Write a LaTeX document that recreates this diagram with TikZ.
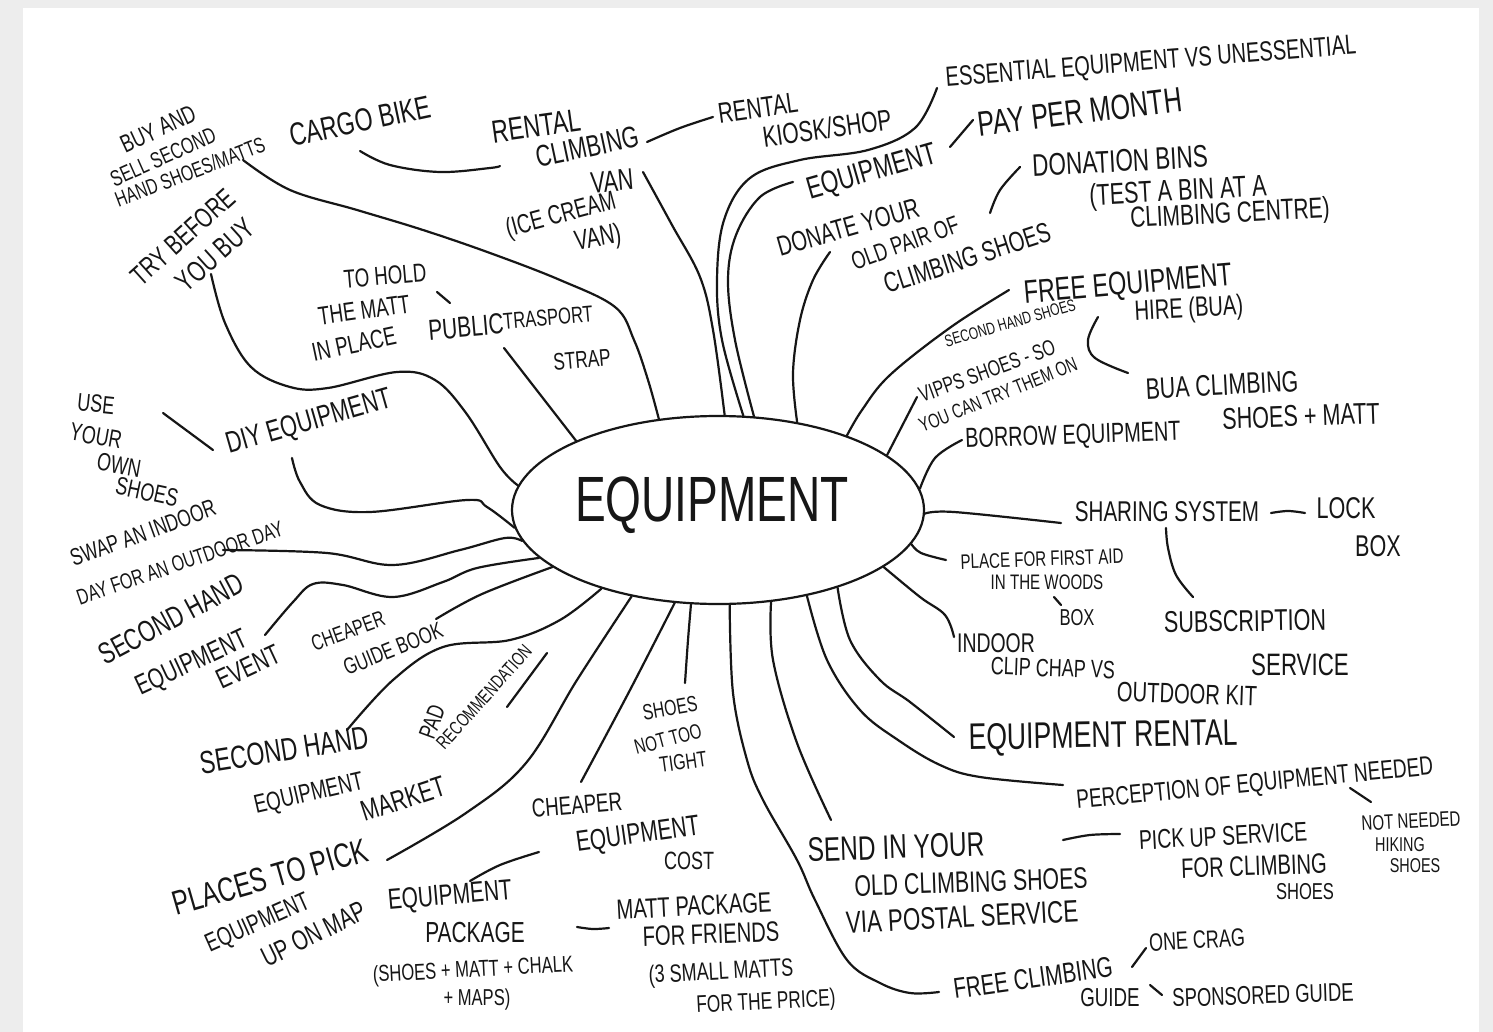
\documentclass[tikz,border=0pt]{standalone}
\usepackage{fontspec}
\setmainfont{Liberation Sans}[FakeStretch=0.72]
\usetikzlibrary{shapes.geometric}
\definecolor{ink}{HTML}{161616}
\definecolor{scanbg}{HTML}{EDEDED}
\begin{document}
\begin{tikzpicture}[x=0.5pt,y=-0.5pt,
  hw/.style={inner sep=0pt, text=ink, anchor=center},
  fs/.style={font=\fontsize{#1}{#1}\selectfont},
  conn/.style={draw=ink, line width=1.1pt, line cap=round, line join=round},
  sm/.style={smooth, tension=0.6}]
% paper
\fill[scanbg] (0,0) rectangle (1493,1032);
\fill[white] (23,8) rectangle (1479,1032);
\useasboundingbox (0,0) rectangle (1493,1032);

% central ellipse
\node[ellipse, draw=ink, line width=1.1pt, minimum width=206pt, minimum height=94pt,
      inner sep=0pt] (eq) at (718,510) {};
\node[hw, font=\fontsize{32}{32}\selectfont] (eqtext) at (712,505) {EQUIPMENT};

% ---------- labels ----------
\node[hw,fs=12.5,rotate=25] (bs1) at (158,129) {BUY AND};
\node[hw,fs=11.2,rotate=24] (bs2) at (163,157) {SELL SECOND};
\node[hw,fs=10.8,rotate=21] (bs3) at (190,172) {HAND SHOES/MATTS};
\node[hw,fs=16,rotate=12] (cargo) at (360,121) {CARGO BIKE};
\node[hw,fs=14,rotate=42] (try1) at (183,237) {TRY BEFORE};
\node[hw,fs=14.5,rotate=42] (try2) at (215,255) {YOU BUY};

\node[hw,fs=16,rotate=8] (van1) at (536,126) {RENTAL};
\node[hw,fs=15,rotate=12] (van2) at (587,147) {CLIMBING};
\node[hw,fs=15,rotate=5] (van3) at (612,181) {VAN};
\node[hw,fs=13.3,rotate=15] (van4) at (561,216) {(ICE CREAM};
\node[hw,fs=14,rotate=10] (van5) at (598,239) {VAN)};

\node[hw,fs=14.4,rotate=8] (kiosk1) at (758,108) {RENTAL};
\node[hw,fs=14.6,rotate=8] (kiosk2) at (827,128) {KIOSK/SHOP};

\node[hw,fs=13.9,rotate=4.5] (ess) at (1151,63) {ESSENTIAL EQUIPMENT VS UNESSENTIAL};
\node[hw,fs=15.6,rotate=16] (equip2) at (872,173) {EQUIPMENT};
\node[hw,fs=17.5,rotate=7] (pay) at (1080,112) {PAY PER MONTH};

\node[hw,fs=14,rotate=16] (donate1) at (848,227) {DONATE YOUR};
\node[hw,fs=12.5,rotate=20] (donate2) at (905,243) {OLD PAIR OF};
\node[hw,fs=14,rotate=18] (donate3) at (967,258) {CLIMBING SHOES};
\node[hw,fs=15.6,rotate=3] (donation) at (1120,161) {DONATION BINS};
\node[hw,fs=15,rotate=3] (test1) at (1178,193) {(TEST A BIN AT A};
\node[hw,fs=14.5,rotate=3] (test2) at (1230,215) {CLIMBING CENTRE)};

\node[hw,fs=16.3,rotate=5] (free1) at (1128,286) {FREE EQUIPMENT};
\node[hw,fs=14,rotate=3] (free2) at (1189,310) {HIRE (BUA)};
\node[hw,fs=8.4,rotate=16] (vipps1) at (1010,323) {SECOND HAND SHOES};
\node[hw,fs=11,rotate=20] (vipps2) at (987,371) {VIPPS SHOES - SO};
\node[hw,fs=10,rotate=22] (vipps3) at (998,395) {YOU CAN TRY THEM ON};
\node[hw,fs=14.8,rotate=3] (bua1) at (1222,385) {BUA CLIMBING};
\node[hw,fs=15,rotate=2] (bua2) at (1301,416) {SHOES + MATT};
\node[hw,fs=13.8,rotate=2] (borrow) at (1073,437) {BORROW EQUIPMENT};

\node[hw,fs=14.3] (share) at (1167,512) {SHARING SYSTEM};
\node[hw,fs=15] (lock1) at (1346,508) {LOCK};
\node[hw,fs=15] (lock2) at (1378,546) {BOX};
\node[hw,fs=15,rotate=1] (subs1) at (1245,621) {SUBSCRIPTION};
\node[hw,fs=15.5] (subs2) at (1300,665) {SERVICE};
\node[hw,fs=10.5,rotate=2] (aid1) at (1042,559) {PLACE FOR FIRST AID};
\node[hw,fs=10.5] (aid2) at (1047,582) {IN THE WOODS};
\node[hw,fs=11.5] (aid3) at (1077,618) {BOX};
\node[hw,fs=13.5] (indoor1) at (996,643) {INDOOR};
\node[hw,fs=12.5,rotate=-2] (indoor2) at (1053,668) {CLIP CHAP VS};
\node[hw,fs=14,rotate=-2] (indoor3) at (1187,694) {OUTDOOR KIT};
\node[hw,fs=18.5,rotate=1] (rental) at (1103,738) {EQUIPMENT RENTAL};
\node[hw,fs=13.2,rotate=5.5] (perc) at (1255,785) {PERCEPTION OF EQUIPMENT NEEDED};
\node[hw,fs=10.5,rotate=3] (nn1) at (1411,821) {NOT NEEDED};
\node[hw,fs=10] (nn2) at (1400,845) {HIKING};
\node[hw,fs=10] (nn3) at (1415,866) {SHOES};
\node[hw,fs=13.5,rotate=3] (pick1) at (1223,836) {PICK UP SERVICE};
\node[hw,fs=14,rotate=2] (pick2) at (1254,866) {FOR CLIMBING};
\node[hw,fs=11.5] (pick3) at (1305,892) {SHOES};
\node[hw,fs=17,rotate=2] (send1) at (896,847) {SEND IN YOUR};
\node[hw,fs=14.8,rotate=2] (send2) at (971,882) {OLD CLIMBING SHOES};
\node[hw,fs=15.5,rotate=3] (send3) at (962,917) {VIA POSTAL SERVICE};
\node[hw,fs=14.3,rotate=8] (fcg1) at (1033,978) {FREE CLIMBING};
\node[hw,fs=13] (fcg2) at (1110,998) {GUIDE};
\node[hw,fs=12.5,rotate=3] (crag) at (1197,940) {ONE CRAG};
\node[hw,fs=12.8,rotate=2] (spons) at (1263,995) {SPONSORED GUIDE};

\node[hw,fs=14,rotate=3] (matt1) at (694,906) {MATT PACKAGE};
\node[hw,fs=14,rotate=2] (matt2) at (711,934) {FOR FRIENDS};
\node[hw,fs=12.5,rotate=3] (matt3) at (721,973) {(3 SMALL MATTS};
\node[hw,fs=12,rotate=3] (matt4) at (766,1003) {FOR THE PRICE)};
\node[hw,fs=14.5,rotate=5] (pkg1) at (450,897) {EQUIPMENT};
\node[hw,fs=14.5] (pkg2) at (475,933) {PACKAGE};
\node[hw,fs=11.5,rotate=3] (pkg3) at (473,971) {(SHOES + MATT + CHALK};
\node[hw,fs=11.5] (pkg4) at (477,1000) {+ MAPS)};
\node[hw,fs=13,rotate=5] (cheap1) at (577,805) {CHEAPER};
\node[hw,fs=14.5,rotate=8] (cheap2) at (638,836) {EQUIPMENT};
\node[hw,fs=12.5] (cheap3) at (689,861) {COST};
\node[hw,fs=11,rotate=10] (shoes1) at (670,708) {SHOES};
\node[hw,fs=10.5,rotate=15] (shoes2) at (668,739) {NOT TOO};
\node[hw,fs=11,rotate=8] (shoes3) at (683,762) {TIGHT};

\node[hw,fs=17,rotate=16] (places1) at (270,877) {PLACES TO PICK};
\node[hw,fs=13,rotate=24] (places2) at (258,924) {EQUIPMENT};
\node[hw,fs=14,rotate=26] (places3) at (314,934) {UP ON MAP};
\node[hw,fs=16,rotate=9] (market1) at (284,750) {SECOND HAND};
\node[hw,fs=13,rotate=13] (market2) at (309,795) {EQUIPMENT};
\node[hw,fs=14.5,rotate=18] (market3) at (403,799) {MARKET};
\node[hw,fs=12,rotate=70] (pad1) at (432,722) {PAD};
\node[hw,fs=9.5,rotate=48] (pad2) at (484,697) {RECOMMENDATION};
\node[hw,fs=15,rotate=28] (event1) at (171,619) {SECOND HAND};
\node[hw,fs=14,rotate=25] (event2) at (192,664) {EQUIPMENT};
\node[hw,fs=14,rotate=25] (event3) at (248,667) {EVENT};
\node[hw,fs=11,rotate=20] (guide1) at (348,631) {CHEAPER};
\node[hw,fs=11.5,rotate=22] (guide2) at (393,649) {GUIDE BOOK};
\node[hw,fs=12,rotate=20] (swap1) at (143,533) {SWAP AN INDOOR};
\node[hw,fs=11,rotate=19] (swap2) at (180,563) {DAY FOR AN OUTDOOR DAY};
\node[hw,fs=12.5,rotate=-6] (use1) at (96,404) {USE};
\node[hw,fs=12.5,rotate=-10] (use2) at (96,436) {YOUR};
\node[hw,fs=12.5,rotate=-10] (use3) at (119,465) {OWN};
\node[hw,fs=12.5,rotate=-12] (use4) at (147,492) {SHOES};
\node[hw,fs=15,rotate=16] (diy) at (309,423) {DIY EQUIPMENT};
\node[hw,fs=13,rotate=5] (hold1) at (385,276) {TO HOLD};
\node[hw,fs=13,rotate=8] (hold2) at (364,310) {THE MATT};
\node[hw,fs=13,rotate=12] (hold3) at (354,344) {IN PLACE};
\node[hw,fs=14.5,rotate=5] (pub1) at (466,327) {PUBLIC};
\node[hw,fs=11.5,rotate=5] (pub2) at (548,318) {TRASPORT};
\node[hw,fs=12,rotate=5] (pub3) at (582,360) {STRAP};

% ---------- connector free ends ----------
\coordinate (c-cargo) at (360,151);   \coordinate (c-vanL) at (500,166);
\coordinate (c-vanR) at (647,142);    \coordinate (c-kiosk) at (713,117);
\coordinate (c-bs) at (243,160);
\coordinate (c-try) at (211,274);
\coordinate (c-holdA) at (437,292);   \coordinate (c-pubA) at (450,303);
\coordinate (c-pub) at (504,348);
\coordinate (c-van) at (643,172);
\coordinate (c-ess) at (937,88);
\coordinate (c-equip) at (793,182);
\coordinate (c-slA) at (950,147);     \coordinate (c-slB) at (973,120);
\coordinate (c-donate) at (830,252);
\coordinate (c-donA) at (990,213);    \coordinate (c-donB) at (1020,167);
\coordinate (c-free) at (1009,290);
\coordinate (c-freeB) at (1098,317);  \coordinate (c-bua) at (1128,373);
\coordinate (c-vipps) at (917,397);
\coordinate (c-borrow) at (962,440);
\coordinate (c-share) at (1061,523);
\coordinate (c-shareR) at (1271,513); \coordinate (c-lock) at (1305,513);
\coordinate (c-shareB) at (1166,528); \coordinate (c-subs) at (1193,597);
\coordinate (c-aid) at (946,560);
\coordinate (c-aidB) at (1054,597);   \coordinate (c-box) at (1061,605);
\coordinate (c-indoor) at (954,637);
\coordinate (c-rental) at (954,737);
\coordinate (c-perc) at (1063,785);
\coordinate (c-percB) at (1350,788);  \coordinate (c-nn) at (1371,802);
\coordinate (c-send) at (831,820);
\coordinate (c-sendR) at (1063,840);  \coordinate (c-pick) at (1120,834);
\coordinate (c-fcg) at (939,992);
\coordinate (c-fcgA) at (1132,967);   \coordinate (c-crag) at (1146,948);
\coordinate (c-fcgB) at (1150,985);   \coordinate (c-spons) at (1162,995);
\coordinate (c-shoes) at (685,683);
\coordinate (c-cheap) at (581,782);
\coordinate (c-pkgA) at (470,881);    \coordinate (c-cheapB) at (539,852);
\coordinate (c-pkgR) at (577,927);    \coordinate (c-matt) at (609,928);
\coordinate (c-places) at (387,860);
\coordinate (c-market) at (347,730);
\coordinate (c-guide) at (436,619);
\coordinate (c-event) at (265,635);
\coordinate (c-swap) at (223,550);
\coordinate (c-diy) at (292,458);
\coordinate (c-useA) at (163,413);    \coordinate (c-diyB) at (213,450);
\coordinate (c-padA) at (507,707);    \coordinate (c-padB) at (547,653);

% ---------- connectors ----------
\draw[conn] plot[sm] coordinates {(c-cargo) (390,165) (440,172) (490,168) (c-vanL)};
\draw[conn] plot[sm] coordinates {(c-vanR) (680,128) (c-kiosk)};
\draw[conn] plot[sm] coordinates {(c-bs) (290,190) (357,210) (423,230) (490,253) (560,280) (615,307) (634,340) (648,380) (eq.123)};
\draw[conn] plot[sm] coordinates {(c-try) (225,323) (251,367) (290,387) (328,388) (397,372) (435,380) (466,413) (500,467) (eq.173)};
\draw[conn] (c-holdA) -- (c-pubA);
\draw[conn] (c-pub) -- (eq.154);
\draw[conn] plot[sm] coordinates {(c-van) (672,225) (700,277) (713,330) (eq.86)};
\draw[conn] plot[sm] coordinates {(c-ess) (915,128) (868,150) (800,160) (750,178) (724,220) (717,280) (722,340) (eq.75)};
\draw[conn] plot[sm] coordinates {(c-equip) (760,197) (736,235) (728,280) (735,340) (eq.69)};
\draw[conn] (c-slA) -- (c-slB);
\draw[conn] plot[sm] coordinates {(c-donate) (813,280) (800,320) (793,373) (eq.48)};
\draw[conn] plot[sm] coordinates {(c-donA) (1000,190) (c-donB)};
\draw[conn] plot[sm] coordinates {(c-free) (951,327) (890,375) (862,410) (eq.30)};
\draw[conn] plot[sm] coordinates {(c-freeB) (1088,340) (1095,358) (c-bua)};
\draw[conn] (c-vipps) -- (eq.18);
\draw[conn] plot[sm] coordinates {(c-borrow) (935,458) (eq.6)};
\draw[conn] plot[sm] coordinates {(eq.-1) (954,512) (c-share)};
\draw[conn] plot[sm] coordinates {(c-shareR) (1288,511) (c-lock)};
\draw[conn] plot[sm] coordinates {(c-shareB) (1168,548) (1176,575) (c-subs)};
\draw[conn] plot[sm] coordinates {(eq.-10) (921,553) (c-aid)};
\draw[conn] (c-aidB) -- (c-box);
\draw[conn] plot[sm] coordinates {(eq.-19) (920,597) (945,615) (c-indoor)};
\draw[conn] plot[sm] coordinates {(eq.-33) (850,640) (880,680) (910,702) (c-rental)};
\draw[conn] plot[sm] coordinates {(eq.-44) (827,660) (860,710) (898,740) (940,765) (980,777) (c-perc)};
\draw[conn] (c-percB) -- (c-nn);
\draw[conn] plot[sm] coordinates {(eq.-60) (773,660) (797,743) (c-send)};
\draw[conn] plot[sm] coordinates {(c-sendR) (1090,835) (c-pick)};
\draw[conn] plot[sm] coordinates {(eq.-83) (733,693) (747,760) (763,800) (797,860) (815,900) (847,960) (880,983) (910,993) (c-fcg)};
\draw[conn] (c-fcgA) -- (c-crag);
\draw[conn] (c-fcgB) -- (c-spons);
\draw[conn] plot[sm] coordinates {(eq.-106) (688,640) (c-shoes)};
\draw[conn] plot[sm] coordinates {(eq.-115) (630,690) (c-cheap)};
\draw[conn] plot[sm] coordinates {(c-pkgA) (500,865) (c-cheapB)};
\draw[conn] plot[sm] coordinates {(c-pkgR) (593,929) (c-matt)};
\draw[conn] plot[sm] coordinates {(eq.-135) (577,680) (526,763) (466,813) (c-places)};
\draw[conn] plot[sm] coordinates {(eq.-146) (560,620) (510,640) (443,647) (393,680) (c-market)};
\draw[conn] plot[sm] coordinates {(eq.-161) (482,594) (c-guide)};
\draw[conn] plot[sm] coordinates {(c-event) (293,602) (313,584) (343,585) (393,597) (443,582) (477,568) (eq.195)};
\draw[conn] plot[sm] coordinates {(c-swap) (327,553) (393,565) (460,550) (505,538) (eq.189)};
\draw[conn] plot[sm] coordinates {(c-diy) (300,482) (320,505) (370,512) (467,500) (487,507) (eq.185)};
\draw[conn] (c-useA) -- (c-diyB);
\draw[conn] (c-padA) -- (c-padB);
\end{tikzpicture}
\end{document}
